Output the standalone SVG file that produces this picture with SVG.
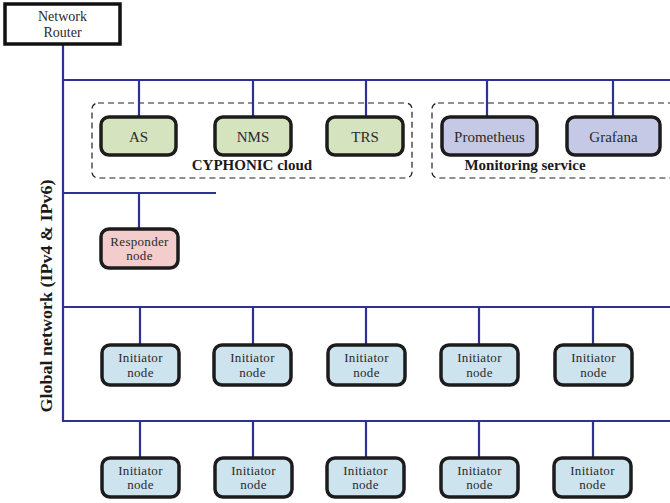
<svg xmlns="http://www.w3.org/2000/svg" width="670" height="503" viewBox="0 0 670 503">
<style>
.ln{stroke:#2e3192;stroke-width:2.2;fill:none}
.nd{stroke:#1c1c1c;stroke-width:3.5}
.g{fill:#d6e3bf}
.p{fill:#c6c9e6}
.r{fill:#f3cdcb}
.b{fill:#cde3ee}
.t{font-family:"Liberation Serif","Times New Roman",serif;font-size:15px;fill:#2a2a2a;text-anchor:middle}
.t2{font-family:"Liberation Serif","Times New Roman",serif;font-size:13px;fill:#2a2a2a;text-anchor:middle;letter-spacing:0.3px}
.bt{font-family:"Liberation Serif","Times New Roman",serif;font-size:15px;font-weight:bold;fill:#1a1a1a;text-anchor:middle}
.grp{fill:none;stroke:#222;stroke-width:1.2;stroke-dasharray:6,4}
</style>
<rect width="670" height="503" fill="#fff"/>
<g id="groups">
<rect class="grp" x="92" y="103" width="320" height="75" rx="6"/>
<text class="bt" x="252" y="170">CYPHONIC cloud</text>
<rect class="grp" x="432" y="103" width="260" height="75" rx="6"/>
<text class="bt" x="525" y="170">Monitoring service</text>
</g>
<g id="connectors">
<path class="ln" d="M63 44V422M63 80H670M139 80V117M253 80V117M366 80V117M487 80V117M613 80V117"/>
<path class="ln" d="M63 193H216M139 193V229"/>
<path class="ln" d="M63 307H670M140 307V345M253 307V345M366 307V345M479 307V345M593 307V345"/>
<path class="ln" d="M63 421H670M140 421V458M253 421V458M366 421V458M479 421V458M593 421V458"/>
</g>
<text class="bt" transform="translate(52,296) rotate(-90)" style="font-size:16px" textLength="233" lengthAdjust="spacingAndGlyphs" x="0" y="0">Global network (IPv4 &amp; IPv6)</text>
<g id="router">
<rect x="5" y="4" width="115" height="40" fill="#fff" stroke="#111" stroke-width="3.5"/>
<text class="t" style="font-size:14px"><tspan x="62.5" y="21">Network</tspan><tspan x="62.5" y="37">Router</tspan></text>
</g>
<g id="as"><rect class="nd g" x="101" y="117" width="75" height="38" rx="8"/><text class="t" x="138.5" y="142">AS</text></g>
<g id="nms"><rect class="nd g" x="215" y="117" width="76" height="38" rx="8"/><text class="t" x="253" y="142">NMS</text></g>
<g id="trs"><rect class="nd g" x="327" y="117" width="76" height="38" rx="8"/><text class="t" x="365" y="142">TRS</text></g>
<g id="prometheus"><rect class="nd p" x="442" y="117" width="95" height="38" rx="8"/><text class="t" x="489.5" y="142">Prometheus</text></g>
<g id="grafana"><rect class="nd p" x="567" y="117" width="93" height="38" rx="8"/><text class="t" x="613.5" y="142">Grafana</text></g>
<g id="responder"><rect class="nd r" x="101" y="229" width="77" height="39" rx="8"/><text class="t2"><tspan x="139.5" y="245.5">Responder</tspan><tspan x="139.5" y="260">node</tspan></text></g>
<g id="init1"><rect class="nd b" x="102" y="345" width="77" height="40" rx="8"/><text class="t2"><tspan x="140.5" y="362">Initiator</tspan><tspan x="140.5" y="376.5">node</tspan></text></g>
<g id="init2"><rect class="nd b" x="214" y="345" width="77" height="40" rx="8"/><text class="t2"><tspan x="252.5" y="362">Initiator</tspan><tspan x="252.5" y="376.5">node</tspan></text></g>
<g id="init3"><rect class="nd b" x="328" y="345" width="77" height="40" rx="8"/><text class="t2"><tspan x="366.5" y="362">Initiator</tspan><tspan x="366.5" y="376.5">node</tspan></text></g>
<g id="init4"><rect class="nd b" x="441" y="345" width="77" height="40" rx="8"/><text class="t2"><tspan x="479.5" y="362">Initiator</tspan><tspan x="479.5" y="376.5">node</tspan></text></g>
<g id="init5"><rect class="nd b" x="555" y="345" width="77" height="40" rx="8"/><text class="t2"><tspan x="593.5" y="362">Initiator</tspan><tspan x="593.5" y="376.5">node</tspan></text></g>
<g id="init6"><rect class="nd b" x="102" y="458" width="77" height="39" rx="8"/><text class="t2"><tspan x="140.5" y="474.5">Initiator</tspan><tspan x="140.5" y="489">node</tspan></text></g>
<g id="init7"><rect class="nd b" x="215" y="458" width="77" height="39" rx="8"/><text class="t2"><tspan x="253.5" y="474.5">Initiator</tspan><tspan x="253.5" y="489">node</tspan></text></g>
<g id="init8"><rect class="nd b" x="327" y="458" width="77" height="39" rx="8"/><text class="t2"><tspan x="365.5" y="474.5">Initiator</tspan><tspan x="365.5" y="489">node</tspan></text></g>
<g id="init9"><rect class="nd b" x="441" y="458" width="77" height="39" rx="8"/><text class="t2"><tspan x="479.5" y="474.5">Initiator</tspan><tspan x="479.5" y="489">node</tspan></text></g>
<g id="init10"><rect class="nd b" x="554" y="458" width="77" height="39" rx="8"/><text class="t2"><tspan x="592.5" y="474.5">Initiator</tspan><tspan x="592.5" y="489">node</tspan></text></g>
</svg>
